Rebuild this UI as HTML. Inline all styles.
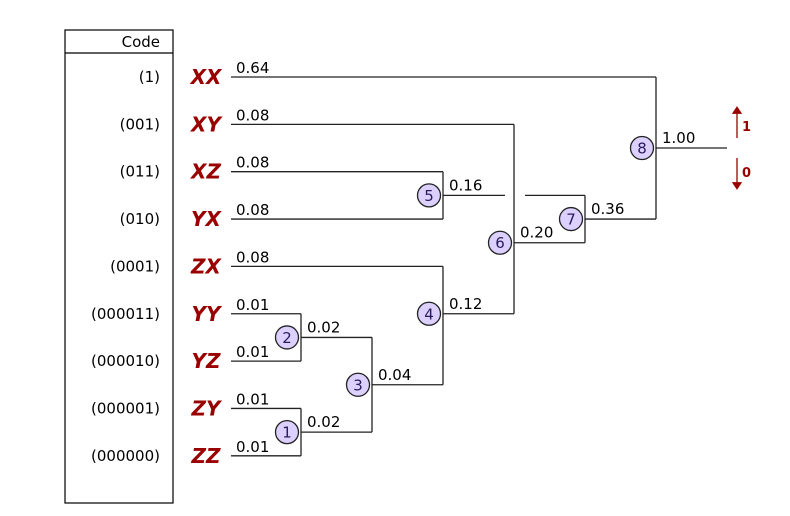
<!DOCTYPE html>
<html><head><meta charset="utf-8"><style>
body{margin:0;background:#fff}
svg{display:block;font-family:"DejaVu Sans","Liberation Sans",sans-serif}
</style></head><body>
<svg width="790" height="516" viewBox="0 0 790 516">
<defs><marker id="ah" markerWidth="6" markerHeight="8" refX="3" refY="4" orient="auto"><path d="M0,0 L6,4 L0,8 z" fill="#900"/></marker></defs>
<g>
<rect x="65" y="30" width="108" height="473" fill="none" stroke="#000" stroke-width="1.2"/>
<line x1="65" y1="53" x2="173" y2="53" stroke="#000" stroke-width="1.2"/>
<text x="160" y="47" text-anchor="end" font-size="15">Code</text>
</g>
<g id="leaves"></g>
<g id="tree" stroke="#222" stroke-width="1.3" fill="none"></g>
<g id="nodes"></g>
<g>
<line x1="737" y1="138" x2="737" y2="110" stroke="#900" stroke-width="1.3" marker-end="url(#ah)"/>
<text x="742" y="131" font-size="13" font-weight="bold" fill="#900">1</text>
<line x1="737" y1="158" x2="737" y2="186" stroke="#900" stroke-width="1.3" marker-end="url(#ah)"/>
<text x="742" y="177" font-size="13" font-weight="bold" fill="#900">0</text>
</g>
</svg>
<script>
const symbols=["XX","XY","XZ","YX","ZX","YY","YZ","ZY","ZZ"];
const codes=["(1)","(001)","(011)","(010)","(0001)","(000011)","(000010)","(000001)","(000000)"];
const probs=["0.64","0.08","0.08","0.08","0.08","0.01","0.01","0.01","0.01"];
const nodeIds=[1,2,3,4,5,6,7,8];
const nodeChildren=[["ZY","ZZ"],["YY","YZ"],[2,1],["ZX",3],["XZ","YX"],["XY",4],[5,6],["XX",7]];
const nodeX=[301,301,372,443,443,514,585,656];
// vertical slot (row units) where each node's output line sits
const nodeRow=[7.5,5.5,6.5,5,2.5,3.5,3,1.5];
const nodeLabels=["0.02","0.02","0.04","0.12","0.16","0.20","0.36","1.00"];
const NS="http://www.w3.org/2000/svg";
const rowY=i=>77+i*47.35;
function mk(t,a,p){const e=document.createElementNS(NS,t);for(const k in a)e.setAttribute(k,a[k]);p.appendChild(e);return e;}
const leaves=document.getElementById('leaves'),tree=document.getElementById('tree'),nodes=document.getElementById('nodes');
const pos={};
symbols.forEach((s,i)=>{
 const y=rowY(i);pos[s]={x:231,y:y};
 const c=mk('text',{x:160,y:y+5,'text-anchor':'end','font-size':15},leaves);c.textContent=codes[i];
 
 
 const l=mk('text',{x:206,y:y+7,'text-anchor':'middle','font-size':20,'font-weight':'bold','font-style':'italic',fill:'#990000'},leaves);l.textContent=s;
 
 
 const p=mk('text',{x:236,y:y-4,'font-size':15},leaves);p.textContent=probs[i];
 
 
});
nodeIds.forEach((id,k)=>{
 const x=nodeX[k];const [a,b]=nodeChildren[k];const A=pos[a],B=pos[b];
 [A,B].forEach(c=>{
  if(id===7&&c===pos[5]){mk('line',{x1:c.x,y1:c.y,x2:505,y2:c.y},tree);mk('line',{x1:525,y1:c.y,x2:x,y2:c.y},tree);}
  else mk('line',{x1:c.x,y1:c.y,x2:x,y2:c.y},tree);
 });
 mk('line',{x1:x,y1:A.y,x2:x,y2:B.y},tree);
 const y=rowY(nodeRow[k]);pos[id]={x:x,y:y};
 const g=mk('g',{},nodes);
 
 
 mk('circle',{cx:x-14,cy:y,r:11.5,fill:'#dcd0ff',stroke:'#222','stroke-width':1.3},g);
 const t=mk('text',{x:x-14,y:y+5.5,'text-anchor':'middle','font-size':15,fill:'#2a1a5a'},g);t.textContent=id;
 const w=mk('text',{x:x+6,y:y-5,'font-size':15},g);w.textContent=nodeLabels[k];
});
mk('line',{x1:656,y1:pos[8].y,x2:727,y2:pos[8].y},tree);
</script>
</body></html>
